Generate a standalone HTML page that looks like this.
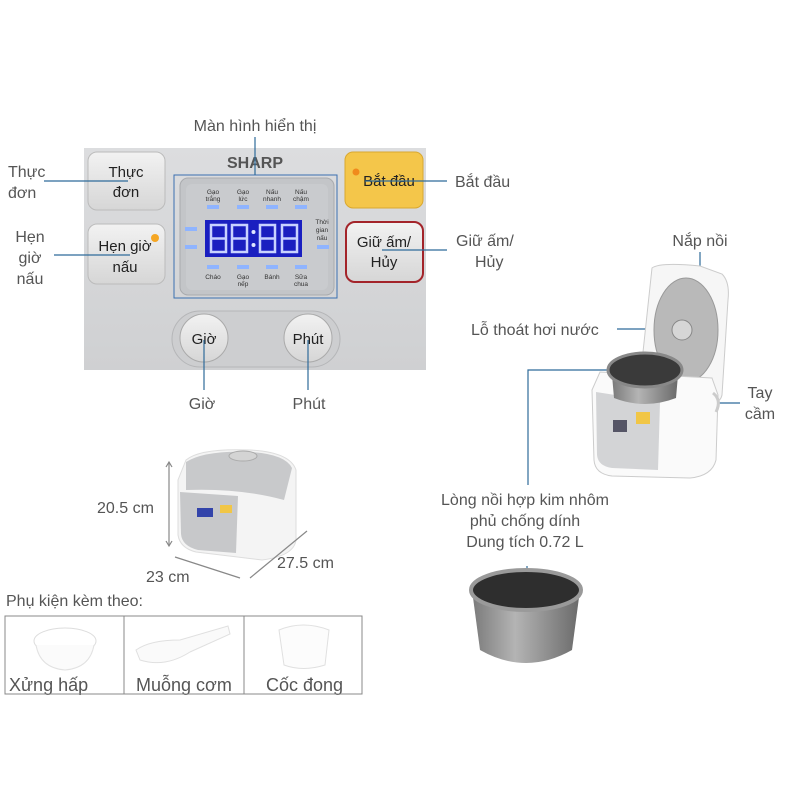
<!DOCTYPE html>
<html><head><meta charset="utf-8"><style>
html,body{margin:0;padding:0;background:#fff}
svg{display:block}
text{font-family:"Liberation Sans","Noto Sans CJK SC",sans-serif}
</style></head><body>
<svg width="800" height="800" viewBox="0 0 800 800" xmlns="http://www.w3.org/2000/svg">
<defs>
<linearGradient id="pan" x1="0" y1="0" x2="0" y2="1"><stop offset="0" stop-color="#dcdddf"/><stop offset="1" stop-color="#cfd0d2"/></linearGradient>
<linearGradient id="btn" x1="0" y1="0" x2="0" y2="1"><stop offset="0" stop-color="#f2f2f2"/><stop offset="1" stop-color="#d6d6d6"/></linearGradient>
<linearGradient id="potside" x1="0" y1="0" x2="1" y2="0"><stop offset="0" stop-color="#7a7a7a"/><stop offset="0.4" stop-color="#b4b4b4"/><stop offset="1" stop-color="#6a6a6a"/></linearGradient>
</defs>
<rect x="84" y="148" width="342" height="222" fill="url(#pan)"/>
<rect x="88" y="152" width="77" height="58" rx="9" fill="url(#btn)" stroke="#bbb"/>
<text x="126" y="177" font-size="15" text-anchor="middle" fill="#222">Thực</text>
<text x="126" y="197" font-size="15" text-anchor="middle" fill="#222">đơn</text>
<rect x="88" y="224" width="77" height="60" rx="9" fill="url(#btn)" stroke="#bbb"/>
<text x="125" y="251" font-size="15" text-anchor="middle" fill="#222">Hẹn giờ</text>
<text x="125" y="272" font-size="15" text-anchor="middle" fill="#222">nấu</text>
<circle cx="155" cy="238" r="4" fill="#f5a623"/>
<text x="255" y="168" font-size="16" font-weight="bold" text-anchor="middle" fill="#555">SHARP</text>
<rect x="180" y="178" width="154" height="117" rx="8" fill="#c3c5c8" stroke="#a9abae"/>
<rect x="186" y="184" width="142" height="106" rx="6" fill="#c9cbce"/>
<rect x="174" y="175" width="163" height="123" fill="none" stroke="#3a6fb0" stroke-width="1"/>
<g font-size="6.5" fill="#333" text-anchor="middle">
<text x="213" y="194">Gạo</text><text x="213" y="201">trắng</text>
<text x="243" y="194">Gạo</text><text x="243" y="201">lức</text>
<text x="272" y="194">Nấu</text><text x="272" y="201">nhanh</text>
<text x="301" y="194">Nấu</text><text x="301" y="201">chậm</text>
<text x="213" y="279">Cháo</text>
<text x="243" y="279">Gạo</text><text x="243" y="286">nếp</text>
<text x="272" y="279">Bánh</text>
<text x="301" y="279">Sữa</text><text x="301" y="286">chua</text>
<text x="322" y="224">Thời</text><text x="322" y="232">gian</text><text x="322" y="240">nấu</text>
</g>
<g fill="#8fb4ff">
<rect x="207" y="205" width="12" height="4"/><rect x="237" y="205" width="12" height="4"/><rect x="266" y="205" width="12" height="4"/><rect x="295" y="205" width="12" height="4"/>
<rect x="207" y="265" width="12" height="4"/><rect x="237" y="265" width="12" height="4"/><rect x="266" y="265" width="12" height="4"/><rect x="295" y="265" width="12" height="4"/>
<rect x="185" y="227" width="12" height="4"/><rect x="185" y="245" width="12" height="4"/><rect x="317" y="245" width="12" height="4"/>
</g>
<rect x="205" y="220" width="97" height="37" fill="#1a1fc0"/>
<g fill="none" stroke="#c8d2ff" stroke-width="2.5">
<rect x="211" y="225" width="15" height="27"/><rect x="232" y="225" width="15" height="27"/>
<rect x="260" y="225" width="15" height="27"/><rect x="282" y="225" width="15" height="27"/>
<line x1="211" y1="238.5" x2="226" y2="238.5"/><line x1="232" y1="238.5" x2="247" y2="238.5"/><line x1="260" y1="238.5" x2="275" y2="238.5"/><line x1="282" y1="238.5" x2="297" y2="238.5"/>
</g>
<circle cx="253.5" cy="232" r="2" fill="#dfe5ff"/><circle cx="253.5" cy="245" r="2" fill="#dfe5ff"/>
<rect x="345" y="152" width="78" height="56" rx="8" fill="#f4c64a" stroke="#d9a830"/>
<circle cx="356" cy="172" r="3.5" fill="#f08a1c"/>
<text x="389" y="186" font-size="15" text-anchor="middle" fill="#222">Bắt đầu</text>
<rect x="346" y="222" width="77" height="60" rx="9" fill="url(#btn)" stroke="#a3242a" stroke-width="2"/>
<text x="384" y="247" font-size="15" text-anchor="middle" fill="#222">Giữ ấm/</text>
<text x="384" y="267" font-size="15" text-anchor="middle" fill="#222">Hủy</text>
<rect x="172" y="311" width="168" height="56" rx="28" fill="#cdced0" stroke="#b5b6b8"/>
<circle cx="204" cy="338" r="24" fill="url(#btn)" stroke="#aaa"/>
<circle cx="308" cy="338" r="24" fill="url(#btn)" stroke="#aaa"/>
<text x="204" y="344" font-size="15" text-anchor="middle" fill="#222">Giờ</text>
<text x="308" y="344" font-size="15" text-anchor="middle" fill="#222">Phút</text>
<g stroke="#2f6b9a" stroke-width="1.2" fill="none">
<line x1="255" y1="137" x2="255" y2="175"/>
<line x1="44" y1="181" x2="128" y2="181"/>
<line x1="54" y1="255" x2="130" y2="255"/>
<line x1="365" y1="181" x2="447" y2="181"/>
<line x1="382" y1="250" x2="447" y2="250"/>
<line x1="204" y1="340" x2="204" y2="390"/>
<line x1="308" y1="340" x2="308" y2="390"/>
<line x1="700" y1="252" x2="700" y2="284"/>
<line x1="617" y1="329" x2="680" y2="329"/>
<polyline points="660,370 528,370 528,485"/>
<line x1="712" y1="403" x2="740" y2="403"/>
<line x1="527" y1="566" x2="527" y2="586"/>
</g>
<g font-size="16" fill="#555">
<text x="255" y="131" text-anchor="middle">Màn hình hiển thị</text>
<text x="8" y="177">Thực</text><text x="8" y="198">đơn</text>
<text x="30" y="242" text-anchor="middle">Hẹn</text><text x="30" y="263" text-anchor="middle">giờ</text><text x="30" y="284" text-anchor="middle">nấu</text>
<text x="455" y="187">Bắt đầu</text>
<text x="456" y="246">Giữ ấm/</text><text x="475" y="267">Hủy</text>
<text x="202" y="409" text-anchor="middle">Giờ</text>
<text x="309" y="409" text-anchor="middle">Phút</text>
<text x="700" y="246" text-anchor="middle">Nắp nồi</text>
<text x="471" y="335">Lỗ thoát hơi nước</text>
<text x="760" y="398" text-anchor="middle">Tay</text><text x="760" y="419" text-anchor="middle">cầm</text>
<text x="525" y="505" text-anchor="middle">Lòng nồi hợp kim nhôm</text>
<text x="525" y="526" text-anchor="middle">phủ chống dính</text>
<text x="525" y="547" text-anchor="middle">Dung tích 0.72 L</text>
<text x="97" y="513">20.5 cm</text>
<text x="146" y="582">23 cm</text>
<text x="277" y="568">27.5 cm</text>
<text x="6" y="606">Phụ kiện kèm theo:</text>
</g>
<g font-size="18" fill="#555">
<text x="9" y="691">Xửng hấp</text>
<text x="136" y="691">Muỗng cơm</text>
<text x="266" y="691">Cốc đong</text>
</g>
<path d="M652,268 Q660,262 700,266 L722,274 Q730,282 728,300 L722,395 Q720,405 705,402 L640,380 Z" fill="#f6f6f6" stroke="#ccc"/>
<ellipse cx="686" cy="330" rx="32" ry="52" fill="#b9b9b9" stroke="#999"/>
<circle cx="682" cy="330" r="10" fill="#d6d6d6" stroke="#888"/>
<path d="M592,390 L600,372 L712,378 L718,395 L716,460 Q712,476 690,478 L612,476 Q595,474 594,460 Z" fill="#fafafa" stroke="#ccc"/>
<path d="M596,392 L660,402 L658,470 L612,468 Q598,466 597,455 Z" fill="#d3d4d6"/>
<rect x="613" y="420" width="14" height="12" fill="#556"/>
<rect x="636" y="412" width="14" height="12" fill="#f1c646"/>
<path d="M612,375 L614,398 Q645,410 676,398 L678,375 Q645,392 612,375 Z" fill="url(#potside)"/>
<ellipse cx="645" cy="370" rx="37" ry="17" fill="#3a3a3a" stroke="#888" stroke-width="3"/>
<path d="M713,393 Q722,400 716,412" fill="none" stroke="#ccc" stroke-width="3"/>
<path d="M472,590 L480,650 Q526,676 572,650 L580,590 Z" fill="url(#potside)"/>
<ellipse cx="526" cy="590" rx="55" ry="20" fill="#2e2e2e" stroke="#9a9a9a" stroke-width="4"/>
<path d="M186,460 Q200,448 250,450 Q290,452 296,470 L296,540 Q294,556 262,560 L196,552 Q180,548 178,535 L178,480 Z" fill="#f4f4f4" stroke="#ddd"/>
<path d="M186,462 Q205,450 250,452 Q285,454 292,468 L284,500 Q240,488 186,490 Z" fill="#c8c9cb"/>
<ellipse cx="243" cy="456" rx="14" ry="5" fill="#d4d4d4" stroke="#aaa"/>
<path d="M180,492 L238,496 L236,553 L198,550 Q182,546 181,534 Z" fill="#c7c8ca"/>
<rect x="197" y="508" width="16" height="9" fill="#3344aa"/>
<rect x="220" y="505" width="12" height="8" fill="#f1c646"/>
<g stroke="#888" stroke-width="1.2" fill="none">
<line x1="169" y1="462" x2="169" y2="546"/>
<polyline points="166,467 169,462 172,467"/><polyline points="166,541 169,546 172,541"/>
<line x1="175" y1="557" x2="240" y2="578"/>
<line x1="250" y1="578" x2="307" y2="531"/>
</g>
<g stroke="#888" fill="none">
<rect x="5" y="616" width="357" height="78"/>
<line x1="124" y1="616" x2="124" y2="694"/>
<line x1="244" y1="616" x2="244" y2="694"/>
</g>
<ellipse cx="65" cy="641" rx="31" ry="13" fill="#fff" stroke="#ddd"/>
<path d="M36,645 Q40,668 65,670 Q90,668 94,645" fill="#fbfbfb" stroke="#e2e2e2"/>
<path d="M136,650 Q150,640 180,640 L228,626 L230,634 L190,652 Q165,668 140,660 Z" fill="#fafafa" stroke="#e0e0e0"/>
<path d="M279,630 Q303,620 329,630 L325,665 Q303,672 284,665 Z" fill="#fcfcfc" stroke="#e0e0e0"/>
</svg>
</body></html>
